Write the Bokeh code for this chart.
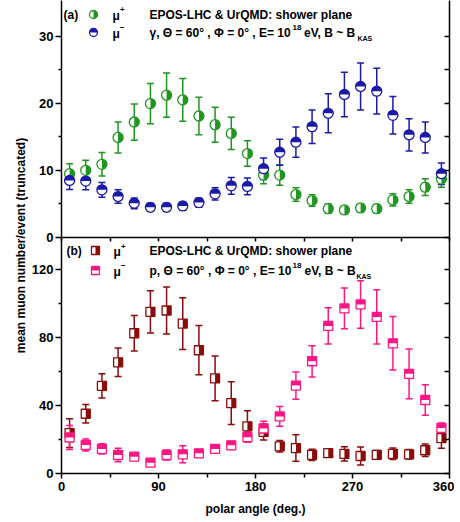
from bokeh.plotting import figure
from bokeh.models import Range1d, LinearAxis, FixedTicker, Label, CustomLabelingPolicy
from bokeh.layouts import row, column
from bokeh.embed import file_html
from bokeh.resources import INLINE
import math

# ---------------- data ----------------
angles = [7.5, 22.5, 37.5, 52.5, 67.5, 82.5, 97.5, 112.5, 127.5, 142.5, 157.5, 172.5,
          187.5, 202.5, 217.5, 232.5, 247.5, 262.5, 277.5, 292.5, 307.5, 322.5, 337.5, 352.5]

# (a) gamma primary
gamma_mu_plus = [9.5, 10.0, 10.9, 14.9, 17.2, 19.95, 21.2, 20.5, 18.1, 16.8, 15.5, 12.5,
                 9.3, 9.3, 6.4, 5.5, 4.3, 4.1, 4.4, 4.3, 5.6, 6.1, 7.5, 8.7]
gamma_mu_plus_err = [1.5, 1.5, 1.75, 2.3, 2.7, 3.0, 3.3, 3.2, 2.8, 2.6, 2.4, 1.9,
                     1.3, 1.5, 1.0, 0.85, 0.7, 0.6, 0.6, 0.6, 0.9, 1.0, 1.25, 1.2]
gamma_mu_minus = [8.5, 8.4, 7.1, 6.1, 5.1, 4.5, 4.5, 4.7, 5.2, 6.5, 7.7, 7.6,
                  10.25, 12.7, 14.2, 16.5, 18.5, 21.3, 22.5, 21.8, 18.2, 15.3, 14.9, 9.5]
gamma_mu_minus_err = [1.35, 1.3, 1.1, 1.0, 0.8, 0.6, 0.6, 0.6, 0.7, 0.9, 1.25, 1.25,
                      1.6, 1.95, 2.25, 2.5, 2.9, 3.3, 3.5, 3.4, 2.8, 2.4, 2.3, 1.6]

# (b) proton primary
p_mu_plus = [23.8, 35.2, 51.6, 65.5, 82.6, 95.2, 96.0, 88.3, 72.6, 56.0, 41.4, 27.8,
             24.5, 16.0, 15.0, 11.0, 12.0, 11.5, 10.3, 11.0, 11.6, 11.3, 13.7, 20.8]
p_mu_plus_err = [8.5, 5.5, 7.2, 8.4, 10.5, 12.5, 13.8, 15.2, 14.5, 13.2, 12.6, 9.2,
                 4.7, 3.4, 7.8, 3.3, 2.2, 4.2, 5.3, 2.6, 3.4, 2.8, 3.7, 6.0]
p_mu_minus = [21.2, 16.8, 14.5, 10.9, 9.9, 6.4, 10.9, 11.3, 11.9, 14.5, 16.6, 21.4,
              26.5, 33.6, 51.8, 66.1, 86.9, 97.2, 99.6, 92.2, 76.7, 58.7, 43.3, 26.8]
p_mu_minus_err = [7.0, 3.5, 3.0, 4.0, 2.0, 2.0, 3.0, 5.0, 2.0, 2.3, 2.3, 3.0,
                  4.3, 5.8, 8.0, 9.2, 10.7, 12.0, 14.0, 16.0, 15.8, 14.6, 9.0, 3.0]

x_ticks = [0, 90, 180, 270, 360]
x_minor = [45, 135, 225, 315]
top_ticks = [0, 10, 20, 30]
top_minor = [5, 15, 25]
bot_ticks = [0, 40, 80, 120]
bot_minor = [20, 60, 100]

GREEN = "#1f961f"
BLUE = "#1a1aa8"
WINE = "#8b0a0a"
PINK = "#ff1685"
FONT = "Liberation Sans"

# ---------------- geometry ----------------
FW = 388
TOP_PX, BOT_PX = 237, 236
TOP_MAX, BOT_MAX = 35.3, 139.0
LEFT_PAGE = 61            # page x of the frames' left edge
TOP_FRAME_BOTTOM = 237    # page y of panel (a) y=0
BOT_FRAME_BOTTOM = 473    # page y of panel (b) y=0
OVERLAP = 8
LABEL_W = 28
BOTTOM_BORDER = 46

DX = 360.0 / FW
DYT = TOP_MAX / TOP_PX
DYB = BOT_MAX / BOT_PX


def xd(px):
    return (px - LEFT_PAGE) * DX


def yt(py):
    return (TOP_FRAME_BOTTOM - py) * DYT


def yb(py):
    return (BOT_FRAME_BOTTOM - py) * DYB


hide = CustomLabelingPolicy(code="for (const i of indices) indices.unset(i)")


def style(ax, labels=True):
    ax.axis_line_width = 1.5
    ax.axis_line_color = "black"
    ax.major_tick_line_width = 1.5
    ax.minor_tick_line_width = 1.5
    ax.major_tick_line_color = "black"
    ax.minor_tick_line_color = "black"
    ax.major_label_text_font = FONT
    ax.major_label_text_font_style = "bold"
    ax.major_label_text_font_size = "13px"
    ax.major_label_text_color = "black"
    if not labels:
        ax.major_label_policy = hide
        ax.major_label_text_font_size = "1px"
        ax.major_label_standoff = 0


def make_panel(frame_h, ymax, ticks, minor, bottom_border, **kw):
    f = figure(frame_width=FW, frame_height=frame_h,
               x_range=Range1d(0, 360), y_range=Range1d(0, ymax),
               x_axis_location=None, y_axis_location=None,
               output_backend="svg", toolbar_location=None,
               min_border_left=LEFT_PAGE - LABEL_W, min_border_right=3,
               min_border_top=0, min_border_bottom=bottom_border, **kw)
    f.outline_line_color = None
    f.grid.visible = False
    left = LinearAxis(ticker=FixedTicker(ticks=ticks, minor_ticks=minor))
    style(left)
    left.major_tick_out, left.major_tick_in = 6, 0
    left.minor_tick_out, left.minor_tick_in = 3, 0
    left.major_label_standoff = 2
    f.add_layout(left, "left")
    right = LinearAxis(ticker=FixedTicker(ticks=ticks, minor_ticks=minor))
    style(right, labels=False)
    right.major_tick_out, right.major_tick_in = 0, 5
    right.minor_tick_out, right.minor_tick_in = 0, 5
    f.add_layout(right, "right")
    return f


# panel (a)
p1 = make_panel(TOP_PX, TOP_MAX, top_ticks, top_minor, OVERLAP)
sep = LinearAxis(ticker=FixedTicker(ticks=x_ticks, minor_ticks=x_minor))
style(sep, labels=False)
sep.major_tick_out, sep.major_tick_in = 4, 0
sep.minor_tick_out, sep.minor_tick_in = 4, 0
p1.add_layout(sep, "below")

# panel (b)
p2 = make_panel(BOT_PX, BOT_MAX, bot_ticks, bot_minor, BOTTOM_BORDER, margin=(-OVERLAP, 0, 0, 0))
p2.border_fill_color = None
p2.background_fill_color = None
bottom = LinearAxis(ticker=FixedTicker(ticks=x_ticks, minor_ticks=x_minor),
                    axis_label="polar angle (deg.)")
style(bottom)
bottom.major_tick_out, bottom.major_tick_in = 5, 0
bottom.minor_tick_out, bottom.minor_tick_in = 4, 0
bottom.major_label_standoff = 3
bottom.axis_label_standoff = 8
bottom.axis_label_text_font = FONT
bottom.axis_label_text_font_style = "bold"
bottom.axis_label_text_font_size = "12px"
bottom.axis_label_text_color = "black"
p2.add_layout(bottom, "below")


# ---------------- glyph helpers ----------------
def errbars(f, x, y, e, color):
    lo = [a - b for a, b in zip(y, e)]
    hi = [a + b for a, b in zip(y, e)]
    f.segment(x0=x, y0=lo, x1=x, y1=hi, line_color=color, line_width=1.5)
    f.scatter(x=list(x) + list(x), y=lo + hi, marker="dash", size=7,
              line_color=color, line_width=1.5)


def half_circles(f, x, y, color, start, end, size=10):
    f.scatter(x=x, y=y, marker="circle", size=size, fill_color="white",
              line_color=color, line_width=1.3)
    f.wedge(x=x, y=y, radius=size / 2, radius_units="screen", start_angle=start, end_angle=end,
            fill_color=color, line_color=None)


def half_squares(f, x, y, color, dy, mode, size=9):
    f.scatter(x=x, y=y, marker="square", size=size, fill_color="white",
              line_color=color, line_width=1.3)
    h = size / 2
    if mode == "right":
        xs = [a + h / 2 * DX for a in x]
        f.rect(x=xs, y=y, width=h, height=size, width_units="screen", height_units="screen",
               fill_color=color, line_color=None)
    else:
        ys = [a + h / 2 * dy for a in y]
        f.rect(x=x, y=ys, width=size, height=h, width_units="screen", height_units="screen",
               fill_color=color, line_color=None)


errbars(p1, angles, gamma_mu_plus, gamma_mu_plus_err, GREEN)
errbars(p1, angles, gamma_mu_minus, gamma_mu_minus_err, BLUE)
half_circles(p1, angles, gamma_mu_plus, GREEN, -math.pi / 2, math.pi / 2)
half_circles(p1, angles, gamma_mu_minus, BLUE, 0, math.pi)

errbars(p2, angles, p_mu_plus, p_mu_plus_err, WINE)
errbars(p2, angles, p_mu_minus, p_mu_minus_err, PINK)
half_squares(p2, angles, p_mu_plus, WINE, DYB, "right")
half_squares(p2, angles, p_mu_minus, PINK, DYB, "top")

# ---------------- legends ----------------
half_circles(p1, [xd(93)], [yt(14)], GREEN, -math.pi / 2, math.pi / 2, size=8)
half_circles(p1, [xd(93)], [yt(32)], BLUE, 0, math.pi, size=8)
half_squares(p2, [xd(95)], [yb(250)], WINE, DYB, "right", size=8)
half_squares(p2, [xd(95)], [yb(270)], PINK, DYB, "top", size=8)


def lab(f, px, py, text, conv, size="12px"):
    lbl = Label(x=xd(px), y=conv(py), text=text)
    lbl.text_font = FONT
    lbl.text_font_style = "bold"
    lbl.text_font_size = size
    lbl.text_color = "black"
    lbl.text_baseline = "middle"
    lbl.text_align = "left"
    f.add_layout(lbl)


# (a)
lab(p1, 63, 14, "(a)", yt)
lab(p1, 112, 15, "\u03bc", yt)
lab(p1, 119.5, 9, "+", yt, "8px")
lab(p1, 149, 14, "EPOS-LHC & UrQMD: shower plane", yt)
lab(p1, 112, 33, "\u03bc", yt)
lab(p1, 119.5, 27, "\u2212", yt, "8px")
lab(p1, 149, 32, "\u03b3, \u0398 = 60\u00b0 , \u03a6 = 0\u00b0 , E= 10", yt)
lab(p1, 292, 26.5, "18", yt, "8px")
lab(p1, 303.5, 32, "eV, B ~ B", yt)
lab(p1, 357, 37.5, "KAS", yt, "7px")

# (b)
lab(p2, 66, 250, "(b)", yb)
lab(p2, 113, 251, "\u03bc", yb)
lab(p2, 120.5, 246, "+", yb, "8px")
lab(p2, 149, 250.5, "EPOS-LHC & UrQMD: shower plane", yb)
lab(p2, 113, 271, "\u03bc", yb)
lab(p2, 120.5, 265, "\u2212", yb, "8px")
lab(p2, 149, 270, "p, \u0398 = 60\u00b0 , \u03a6 = 0\u00b0 , E= 10", yb)
lab(p2, 292, 264.5, "18", yb, "8px")
lab(p2, 304, 270, "eV, B ~ B", yb)
lab(p2, 356, 276, "KAS", yb, "7px")

# ---------------- shared y-axis title ----------------
TOTAL_H = TOP_PX + OVERLAP + BOT_PX - OVERLAP + BOTTOM_BORDER
p0 = figure(frame_width=LABEL_W, frame_height=TOTAL_H,
            x_range=Range1d(0, LABEL_W), y_range=Range1d(0, TOTAL_H),
            x_axis_location=None, y_axis_location=None,
            output_backend="svg", toolbar_location=None,
            min_border=0)
p0.outline_line_color = None
p0.grid.visible = False
ylab = Label(x=20, y=TOTAL_H - 245, text="mean muon number/event (truncated)",
             angle=math.pi / 2, text_align="center", text_baseline="middle",
             text_font=FONT, text_font_style="bold", text_font_size="12px", text_color="black")
p0.add_layout(ylab)

layout = row(p0, column(p1, p2))
open("out.html", "w").write(file_html(layout, INLINE))
